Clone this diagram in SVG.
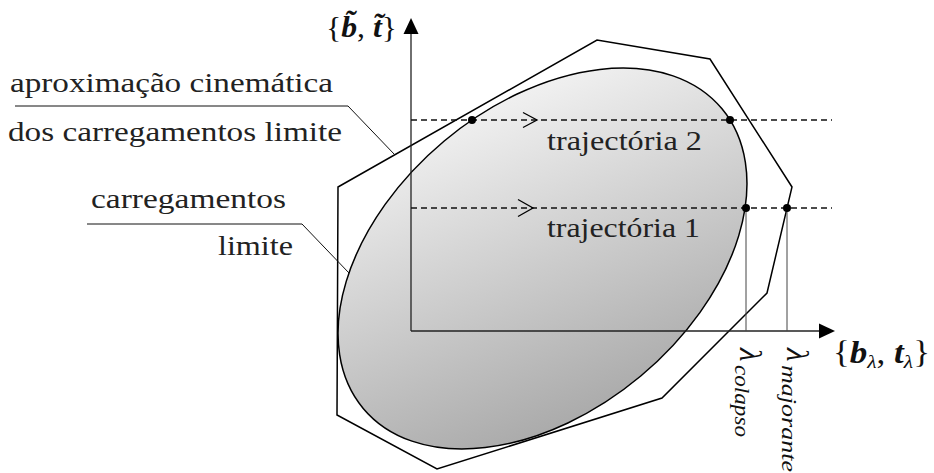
<svg xmlns="http://www.w3.org/2000/svg" width="934" height="473" viewBox="0 0 934 473">
<defs>
<linearGradient id="shade" gradientUnits="userSpaceOnUse" x1="600" y1="68" x2="480" y2="452">
<stop offset="0" stop-color="#f8f8f8"/>
<stop offset="1" stop-color="#a2a2a2"/>
</linearGradient>
<style>
text{font-family:'Liberation Serif','DejaVu Serif',serif}
.lbl{font-size:27px;fill:#222}
.math{fill:#111}
.bi{font-weight:bold;font-style:italic}
.it{font-style:italic}
.edge{fill:none;stroke:#000;stroke-width:1.5;stroke-linejoin:miter}
.axis{fill:none;stroke:#222;stroke-width:1.3}
.dash{fill:none;stroke:#111;stroke-width:1.3;stroke-dasharray:6 4}
.thin{fill:none;stroke:#444;stroke-width:1}
.lead{fill:none;stroke:#111;stroke-width:1}
.chev{fill:none;stroke:#000;stroke-width:1.3}
.dot{fill:#000}
.head{fill:#000}
</style>
</defs>
<rect width="934" height="473" fill="#fff"/>

<g id="polygon-kinematic">
<polygon class="edge" points="338,187 597,40 710,59 792,187 767,293 662,398 437,469 337,415"/>
</g>

<g id="ellipse-limit">
<ellipse cx="542.5" cy="258.5" rx="233.7" ry="153.2" transform="rotate(-39.9 542.5 258.5)" fill="url(#shade)" stroke="#000" stroke-width="1.5"/>
</g>

<g id="connectors">
<path class="axis" d="M411,331 V34"/>
<polygon class="head" points="411,18 403.5,34 418.5,34"/>
<path class="axis" d="M411,331 H819"/>
<polygon class="head" points="835,331 819,323.5 819,338.5"/>
<path class="dash" d="M411,120 H832"/>
<path class="dash" d="M411,208 H832"/>
<path class="chev" d="M523,112.5 L537,120 L523,127.5"/>
<path class="chev" d="M518,199.5 L533,208 L518,216.5"/>
<path class="thin" d="M746,208 V331"/>
<path class="thin" d="M787,208 V331"/>
<path class="lead" d="M15,106 H348 L395,155"/>
<path class="lead" d="M87,224 H302 L349,273"/>
</g>

<g id="points">
<circle class="dot" cx="472" cy="120" r="4"/>
<circle class="dot" cx="730" cy="120" r="4"/>
<circle class="dot" cx="746" cy="208" r="4"/>
<circle class="dot" cx="787" cy="208" r="4"/>
</g>

<g id="label-kinematic">
<text class="lbl" font-family="Liberation Serif, serif" x="10" y="92" textLength="323" lengthAdjust="spacingAndGlyphs">aproximação cinemática</text>
<text class="lbl" font-family="Liberation Serif, serif" x="8" y="141" textLength="334" lengthAdjust="spacingAndGlyphs">dos carregamentos limite</text>
</g>

<g id="label-limit">
<text class="lbl" font-family="Liberation Serif, serif" x="91" y="208" textLength="195" lengthAdjust="spacingAndGlyphs">carregamentos</text>
<text class="lbl" font-family="Liberation Serif, serif" x="218" y="255" textLength="75" lengthAdjust="spacingAndGlyphs">limite</text>
</g>

<g id="label-traj2">
<text class="lbl" font-family="Liberation Serif, serif" x="547" y="150" textLength="155" lengthAdjust="spacingAndGlyphs">trajectória 2</text>
</g>
<g id="label-traj1">
<text class="lbl" font-family="Liberation Serif, serif" x="547" y="237" textLength="153" lengthAdjust="spacingAndGlyphs">trajectória 1</text>
</g>

<g id="label-y-axis">
<text class="math" x="326" y="37" font-size="30" textLength="71" lengthAdjust="spacingAndGlyphs">{<tspan class="bi">b̃</tspan>, <tspan class="bi">t̃</tspan>}</text>
</g>

<g id="label-x-axis">
<text class="math" x="833" y="363" font-size="31" textLength="97" lengthAdjust="spacingAndGlyphs">{<tspan class="bi">b</tspan><tspan font-size="19" dy="5" class="it">λ</tspan><tspan dy="-5">, </tspan><tspan class="bi">t</tspan><tspan font-size="19" dy="5" class="it">λ</tspan><tspan dy="-5">}</tspan></text>
</g>

<g id="label-colapso">
<text class="math" transform="translate(740,348) rotate(90)" font-size="31"><tspan class="it">λ</tspan><tspan class="it" font-size="21" dy="5" x="17" textLength="72" lengthAdjust="spacingAndGlyphs">colapso</tspan></text>
</g>

<g id="label-majorante">
<text class="math" transform="translate(787,348) rotate(90)" font-size="31"><tspan class="it">λ</tspan><tspan class="it" font-size="21" dy="5" x="17" textLength="107" lengthAdjust="spacingAndGlyphs">majorante</tspan></text>
</g>
</svg>
